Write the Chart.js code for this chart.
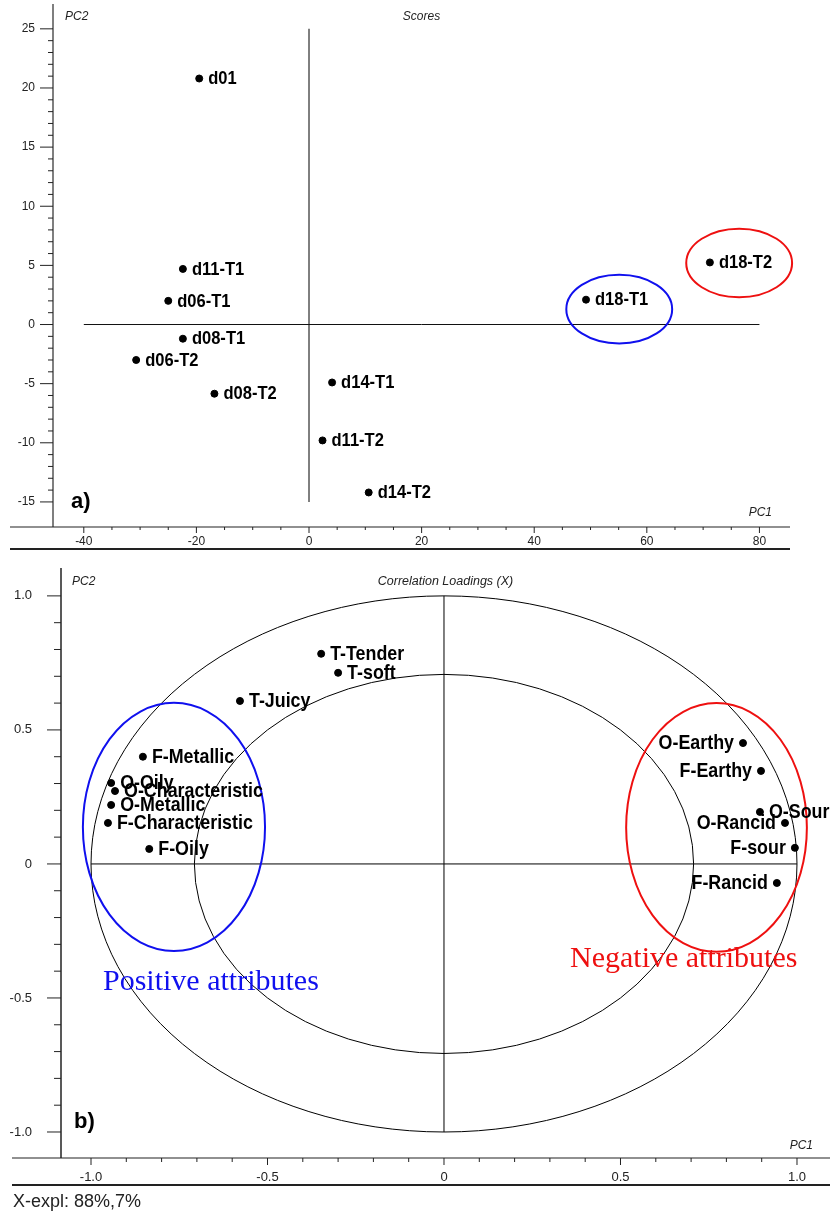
<!DOCTYPE html>
<html>
<head>
<meta charset="utf-8">
<script src="https://cdn.jsdelivr.net/npm/chart.js@4.4.0/dist/chart.umd.min.js"></script>
<style>
html, body { margin: 0; padding: 0; background: #fff; }
#wrapScores { position: absolute; left: 0; top: 0; width: 830px; height: 560px; }
#wrapLoadings { position: absolute; left: 0; top: 560px; width: 830px; height: 653px; }
</style>
</head>
<body>
<div id="wrapScores"><canvas id="chartScores"></canvas></div>
<div id="wrapLoadings"><canvas id="chartLoadings"></canvas></div>
<script>
// a) scores
const scoreNames = ['d01', 'd11-T1', 'd06-T1', 'd08-T1', 'd06-T2', 'd08-T2', 'd14-T1', 'd11-T2', 'd14-T2', 'd18-T1', 'd18-T2'];
const scorePC1 = [-19.5, -22.4, -25.0, -22.4, -30.7, -16.8, 4.1, 2.4, 10.6, 49.2, 71.2];
const scorePC2 = [20.8, 4.7, 2.0, -1.2, -3.0, -5.85, -4.9, -9.8, -14.2, 2.1, 5.25];
const scoreXTicks = [-40, -20, 0, 20, 40, 60, 80];
const scoreYTicks = [-15, -10, -5, 0, 5, 10, 15, 20, 25];
const scoreCrossX = [-40, 80];
const scoreCrossY = [-15, 25];
// group ellipses: centre PC1, centre PC2, half width, half height (data units)
const scoreGroupT1 = [55.1, 1.3, 9.4, 2.9];
const scoreGroupT2 = [76.4, 5.2, 9.4, 2.9];

// b) correlation loadings
const loadNames = ['T-Tender', 'T-soft', 'T-Juicy', 'F-Metallic', 'O-Oily', 'O-Characteristic', 'O-Metallic',
  'F-Characteristic', 'F-Oily', 'O-Earthy', 'F-Earthy', 'O-Sour', 'O-Rancid', 'F-sour', 'F-Rancid'];
const loadPC1 = [-0.348, -0.30, -0.578, -0.853, -0.943, -0.932, -0.943, -0.952, -0.835, 0.847, 0.898, 0.895, 0.966, 0.994, 0.943];
const loadPC2 = [0.784, 0.713, 0.608, 0.40, 0.302, 0.272, 0.22, 0.153, 0.056, 0.451, 0.347, 0.194, 0.153, 0.06, -0.071];
const loadLeftLabels = ['O-Earthy', 'F-Earthy', 'O-Rancid', 'F-sour', 'F-Rancid'];
const loadXTicks = [-1, -0.5, 0, 0.5, 1];
const loadXTickLabels = ['-1.0', '-0.5', '0', '0.5', '1.0'];
const loadYTicks = [-1, -0.5, 0, 0.5, 1];
const loadYTickLabels = ['-1.0', '-0.5', '0', '0.5', '1.0'];
const loadCross = [-1, 1];
const loadCircles = [1, 0.7071];
const positiveGroup = [-0.765, 0.138, 0.258, 0.463];
const negativeGroup = [0.772, 0.136, 0.256, 0.464];

Chart.defaults.font.family = "'Liberation Sans', Arial, sans-serif";
Chart.defaults.color = '#222';

function line(ctx, x1, y1, x2, y2) {
  ctx.beginPath();
  ctx.moveTo(x1, y1);
  ctx.lineTo(x2, y2);
  ctx.stroke();
}

function ellipse(ctx, x, y, e) {
  const cx = x.getPixelForValue(e[0]);
  const cy = y.getPixelForValue(e[1]);
  const rx = Math.abs(x.getPixelForValue(e[0] + e[2]) - cx);
  const ry = Math.abs(y.getPixelForValue(e[1] + e[3]) - cy);
  ctx.beginPath();
  ctx.ellipse(cx, cy, rx, ry, 0, 0, Math.PI * 2);
  ctx.stroke();
}

// no label overflow padding, the plot area is set by layout padding only
function noPad(s) {
  s.paddingTop = 0;
  s.paddingBottom = 0;
  s.paddingLeft = 0;
  s.paddingRight = 0;
}

// bold, slightly narrow point names (the original uses a condensed face)
function pointLabels(chart, names, leftSet, size, squeeze) {
  const ctx = chart.ctx;
  ctx.font = 'bold ' + size + "px 'Liberation Sans', Arial, sans-serif";
  ctx.fillStyle = '#000';
  ctx.textBaseline = 'middle';
  chart.getDatasetMeta(0).data.forEach((pt, i) => {
    const left = leftSet.includes(names[i]);
    ctx.save();
    ctx.translate(pt.x, pt.y + 0.5);
    ctx.scale(squeeze, 1);
    ctx.textAlign = left ? 'right' : 'left';
    ctx.fillText(names[i], (left ? -9 : 9) / squeeze, 0);
    ctx.restore();
  });
}

const scoresDecor = {
  id: 'scoresDecor',
  afterDatasetsDraw(chart) {
    const { ctx, chartArea: a, scales: { x, y } } = chart;
    ctx.save();
    // axes
    ctx.strokeStyle = '#555';
    ctx.lineWidth = 1.5;
    line(ctx, a.left, a.top, a.left, a.bottom);
    ctx.strokeStyle = '#222';
    ctx.lineWidth = 1.2;
    line(ctx, 10, a.bottom, a.right, a.bottom);
    ctx.lineWidth = 2;
    line(ctx, 10, 549, a.right, 549);
    // ticks
    ctx.lineWidth = 1;
    for (let v = -15; v <= 25; v++) {
      const py = y.getPixelForValue(v);
      line(ctx, a.left - (v % 5 === 0 ? 13 : 5), py, a.left, py);
    }
    for (let v = -40; v <= 80; v += 5) {
      const px = x.getPixelForValue(v);
      line(ctx, px, a.bottom, px, a.bottom + (v % 20 === 0 ? 6 : 3));
    }
    // group ellipses
    ctx.lineWidth = 2;
    ctx.strokeStyle = '#1010ee';
    ellipse(ctx, x, y, scoreGroupT1);
    ctx.strokeStyle = '#ee1010';
    ellipse(ctx, x, y, scoreGroupT2);
    pointLabels(chart, scoreNames, [], 19, 0.87);
    // titles
    ctx.fillStyle = '#222';
    ctx.textBaseline = 'middle';
    ctx.font = "italic 12px 'Liberation Sans', Arial, sans-serif";
    ctx.textAlign = 'left';
    ctx.fillText('PC2', a.left + 12, a.top + 13);
    ctx.textAlign = 'center';
    ctx.fillText('Scores', (a.left + a.right) / 2, a.top + 13);
    ctx.textAlign = 'right';
    ctx.fillText('PC1', a.right - 18, a.bottom - 14);
    ctx.fillStyle = '#000';
    ctx.textAlign = 'left';
    ctx.font = "bold 22px 'Liberation Sans', Arial, sans-serif";
    ctx.fillText('a)', a.left + 18, a.bottom - 25);
    ctx.restore();
  }
};

const loadingsDecor = {
  id: 'loadingsDecor',
  beforeDatasetsDraw(chart) {
    const { ctx, scales: { x, y } } = chart;
    ctx.save();
    ctx.strokeStyle = '#000';
    ctx.lineWidth = 1;
    loadCircles.forEach(r => ellipse(ctx, x, y, [0, 0, r, r]));
    ctx.restore();
  },
  afterDatasetsDraw(chart) {
    const { ctx, chartArea: a, scales: { x, y } } = chart;
    ctx.save();
    ctx.strokeStyle = '#222';
    ctx.lineWidth = 1.5;
    line(ctx, a.left, a.top, a.left, a.bottom);
    ctx.lineWidth = 1.2;
    line(ctx, 12, a.bottom, a.right, a.bottom);
    ctx.lineWidth = 2;
    line(ctx, 12, 625, a.right, 625);
    ctx.lineWidth = 1;
    for (let k = -10; k <= 10; k++) {
      const py = y.getPixelForValue(k / 10);
      line(ctx, a.left - (k % 5 === 0 ? 14 : 7), py, a.left, py);
      const px = x.getPixelForValue(k / 10);
      line(ctx, px, a.bottom, px, a.bottom + (k % 5 === 0 ? 7 : 4));
    }
    ctx.lineWidth = 2;
    ctx.strokeStyle = '#1010ee';
    ellipse(ctx, x, y, positiveGroup);
    ctx.strokeStyle = '#ee1010';
    ellipse(ctx, x, y, negativeGroup);
    pointLabels(chart, loadNames, loadLeftLabels, 21, 0.85);
    // group captions
    ctx.font = "30px 'Liberation Serif', 'Times New Roman', serif";
    ctx.textBaseline = 'alphabetic';
    ctx.textAlign = 'left';
    ctx.fillStyle = '#1010ee';
    ctx.fillText('Positive attributes', x.getPixelForValue(-0.966), y.getPixelForValue(-0.47));
    ctx.fillStyle = '#ee1010';
    ctx.fillText('Negative attributes', x.getPixelForValue(0.357), y.getPixelForValue(-0.384));
    // titles
    ctx.fillStyle = '#222';
    ctx.textBaseline = 'middle';
    ctx.font = "italic 12px 'Liberation Sans', Arial, sans-serif";
    ctx.fillText('PC2', a.left + 11, a.top + 14);
    ctx.textAlign = 'right';
    ctx.fillText('PC1', a.right - 17, a.bottom - 12);
    ctx.textAlign = 'center';
    ctx.font = "italic 12.5px 'Liberation Sans', Arial, sans-serif";
    ctx.fillText('Correlation Loadings (X)', (a.left + a.right) / 2, a.top + 14);
    ctx.fillStyle = '#000';
    ctx.textAlign = 'left';
    ctx.font = "bold 22px 'Liberation Sans', Arial, sans-serif";
    ctx.fillText('b)', a.left + 13, a.bottom - 36);
    ctx.fillStyle = '#222';
    ctx.font = "18px 'Liberation Sans', Arial, sans-serif";
    ctx.fillText('X-expl: 88%,7%', 13, 642);
    ctx.restore();
  }
};

const ctxA = document.getElementById('chartScores').getContext('2d');
const chartScores = new Chart(ctxA, {
  type: 'scatter',
  data: {
    datasets: [{
      data: scorePC1.map((v, i) => ({ x: v, y: scorePC2[i] })),
      backgroundColor: '#000',
      borderColor: '#000',
      pointRadius: 3.5
    }, {
      type: 'line',
      data: scoreCrossX.map(v => ({ x: v, y: 0 })),
      borderColor: '#111',
      borderWidth: 1,
      pointRadius: 0
    }, {
      type: 'line',
      data: scoreCrossY.map(v => ({ x: 0, y: v })),
      borderColor: '#555',
      borderWidth: 1.5,
      pointRadius: 0
    }]
  },
  options: {
    responsive: true,
    maintainAspectRatio: false,
    animation: false,
    layout: { autoPadding: false, padding: { top: 4, right: 40, left: 0, bottom: 0 } },
    plugins: { legend: { display: false }, tooltip: { enabled: false } },
    scales: {
      x: {
        type: 'linear',
        min: -45.47,
        max: 85.43,
        afterBuildTicks: s => { s.ticks = scoreXTicks.map(v => ({ value: v })); },
        afterFit: s => { s.height = 33; noPad(s); },
        grid: { display: false, drawTicks: false },
        border: { display: false },
        ticks: { padding: 7, font: { size: 12 }, maxRotation: 0, autoSkip: false }
      },
      y: {
        type: 'linear',
        min: -17.12,
        max: 27.1,
        afterBuildTicks: s => { s.ticks = scoreYTicks.map(v => ({ value: v })); },
        afterFit: s => { s.width = 53; noPad(s); },
        grid: { display: false, drawTicks: false },
        border: { display: false },
        ticks: { padding: 18, font: { size: 12 }, autoSkip: false }
      }
    }
  },
  plugins: [scoresDecor]
});

const ctxB = document.getElementById('chartLoadings').getContext('2d');
const chartLoadings = new Chart(ctxB, {
  type: 'scatter',
  data: {
    datasets: [{
      data: loadPC1.map((v, i) => ({ x: v, y: loadPC2[i] })),
      backgroundColor: '#000',
      borderColor: '#000',
      pointRadius: 3.5
    }, {
      type: 'line',
      data: loadCross.map(v => ({ x: v, y: 0 })),
      borderColor: '#000',
      borderWidth: 1,
      pointRadius: 0
    }, {
      type: 'line',
      data: loadCross.map(v => ({ x: 0, y: v })),
      borderColor: '#000',
      borderWidth: 1,
      pointRadius: 0
    }]
  },
  options: {
    responsive: true,
    maintainAspectRatio: false,
    animation: false,
    layout: { autoPadding: false, padding: { top: 8, right: 0, left: 0, bottom: 0 } },
    plugins: { legend: { display: false }, tooltip: { enabled: false } },
    scales: {
      x: {
        type: 'linear',
        min: -1.085,
        max: 1.0935,
        afterBuildTicks: s => { s.ticks = loadXTicks.map(v => ({ value: v })); },
        afterFit: s => { s.height = 55; noPad(s); },
        grid: { display: false, drawTicks: false },
        border: { display: false },
        ticks: {
          padding: 12, font: { size: 13 }, maxRotation: 0, autoSkip: false,
          callback: (v, i) => loadXTickLabels[i]
        }
      },
      y: {
        type: 'linear',
        min: -1.097,
        max: 1.104,
        afterBuildTicks: s => { s.ticks = loadYTicks.map(v => ({ value: v })); },
        afterFit: s => { s.width = 61; noPad(s); },
        grid: { display: false, drawTicks: false },
        border: { display: false },
        ticks: {
          padding: 29, font: { size: 13 }, autoSkip: false,
          callback: (v, i) => loadYTickLabels[i]
        }
      }
    }
  },
  plugins: [loadingsDecor]
});
</script>
</body>
</html>
